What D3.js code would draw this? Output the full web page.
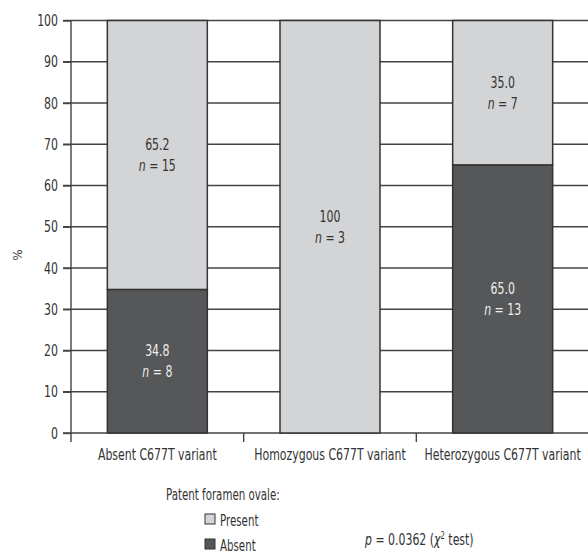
<!DOCTYPE html>
<html>
<head>
<meta charset="utf-8">
<script src="https://cdn.jsdelivr.net/npm/d3@7"></script>
<style>
  body { margin: 0; background: #fff; }
  svg text { font-family: "DejaVu Sans Condensed", "DejaVu Sans", sans-serif; font-stretch: condensed; fill: #333; }
</style>
</head>
<body>
<div class="plot"></div>
<script>
// Chart data
const categories = ["Absent C677T variant", "Homozygous C677T variant", "Heterozygous C677T variant"];
const presentPct = [65.2, 100, 35.0];
const absentPct = [34.8, 0, 65.0];
const presentLabels = ["65.2", "100", "35.0"];
const absentLabels = ["34.8", "", "65.0"];
const presentN = [15, 3, 7];
const absentN = [8, 0, 13];
const yTicks = [0, 10, 20, 30, 40, 50, 60, 70, 80, 90, 100];

const W = 588, H = 560;
const colPresent = "#d3d4d6", colAbsent = "#555759", ink = "#333";
const SX = 0.76; // squeeze text horizontally to mimic the condensed face

const svg = d3.select(".plot")
  .append("svg")
    .attr("width", W)
    .attr("height", H);

// helper: condensed text placed at (x, y)
function addText(parent, x, y, size, anchor) {
  return parent.append("g")
      .attr("transform", "translate(" + x + "," + y + ") scale(" + SX + ",1)")
    .append("text")
      .attr("text-anchor", anchor || "start")
      .style("font-size", size + "px");
}

// Scales
const x = d3.scaleBand().domain(categories).range([71, 589]).padding(0);
const y = d3.scaleLinear().domain([0, 100]).range([433, 20.5]);
const barW = 100;

// Gridlines (drawn under bars)
svg.append("g")
  .selectAll("line")
  .data(yTicks)
  .enter()
  .append("line")
    .attr("x1", 63)
    .attr("x2", W)
    .attr("y1", d => y(d))
    .attr("y2", d => y(d))
    .attr("stroke", "#444")
    .attr("stroke-width", 1.4);

// y axis
const yAxis = svg.append("g")
  .attr("transform", "translate(71,0)")
  .call(d3.axisLeft(y).tickValues(yTicks).tickSize(8).tickPadding(5));
yAxis.select(".domain").remove();
yAxis.selectAll("line").attr("stroke", "#444").attr("stroke-width", 1.4);
yAxis.selectAll("text")
  .attr("x", -13 / SX)
  .attr("transform", "scale(" + SX + ",1)")
  .style("font-size", "16px")
  .attr("fill", ink);
svg.append("line")
  .attr("x1", 71).attr("x2", 71)
  .attr("y1", y(100)).attr("y2", 442)
  .attr("stroke", "#444").attr("stroke-width", 1.4);

// x axis ticks at band edges
const edges = categories.map(c => x(c));
svg.append("g")
  .selectAll("line")
  .data(edges.slice(1))
  .enter()
  .append("line")
    .attr("x1", d => d).attr("x2", d => d)
    .attr("y1", y(0)).attr("y2", 442)
    .attr("stroke", "#444").attr("stroke-width", 1.4);

const xl = svg.append("g");
categories.forEach(c => {
  addText(xl, x(c) + x.bandwidth() / 2, 460, 16, "middle").text(c);
});

// Stacked bars: absent at bottom, present on top
const segs = [];
categories.forEach((c, i) => {
  segs.push({cat: c, y0: 0, y1: absentPct[i], fill: colAbsent, label: absentLabels[i], n: absentN[i], light: true});
  segs.push({cat: c, y0: absentPct[i], y1: absentPct[i] + presentPct[i], fill: colPresent, label: presentLabels[i], n: presentN[i], light: false});
});
const drawn = segs.filter(s => s.y1 - s.y0 > 0);

svg.append("g")
  .selectAll("rect")
  .data(drawn)
  .enter()
  .append("rect")
    .attr("x", d => x(d.cat) + x.bandwidth() / 2 - barW / 2)
    .attr("width", barW)
    .attr("y", d => y(d.y1))
    .attr("height", d => y(d.y0) - y(d.y1))
    .attr("fill", d => d.fill)
    .attr("stroke", "#333")
    .attr("stroke-width", 1.5);

// Labels in bars
const lab = svg.append("g");
drawn.forEach(d => {
  const cx = x(d.cat) + x.bandwidth() / 2;
  const cy = (y(d.y0) + y(d.y1)) / 2;
  const col = d.light ? "#eee" : ink;
  addText(lab, cx, cy - 5, 16, "middle").style("fill", col).text(d.label);
  const nt = addText(lab, cx, cy + 16, 16, "middle").style("fill", col);
  nt.append("tspan").style("font-style", "italic").text("n");
  nt.append("tspan").text(" = " + d.n);
});

// y axis title
svg.append("text")
  .attr("transform", "translate(22,255) rotate(-90)")
  .attr("text-anchor", "middle")
  .style("font-size", "13px")
  .text("%");

// Legend
addText(svg, 166, 500, 15).text("Patent foramen ovale:");

const legendItems = [["Present", colPresent], ["Absent", colAbsent]];
legendItems.forEach((d, i) => {
  const gy = 514 + i * 25;
  svg.append("rect")
    .attr("x", 205).attr("y", gy)
    .attr("width", 10).attr("height", 10)
    .attr("fill", d[1])
    .attr("stroke", "#333").attr("stroke-width", 1);
  addText(svg, 220, gy + 12, 15).text(d[0]);
});

// p value
const pt = addText(svg, 365, 545, 16);
pt.append("tspan").style("font-style", "italic").text("p");
pt.append("tspan").text(" = 0.0362 (");
pt.append("tspan").style("font-style", "italic").text("χ");
pt.append("tspan").attr("dy", -6).style("font-size", "10px").text("2");
pt.append("tspan").attr("dy", 6).text(" test)");
</script>
</body>
</html>
